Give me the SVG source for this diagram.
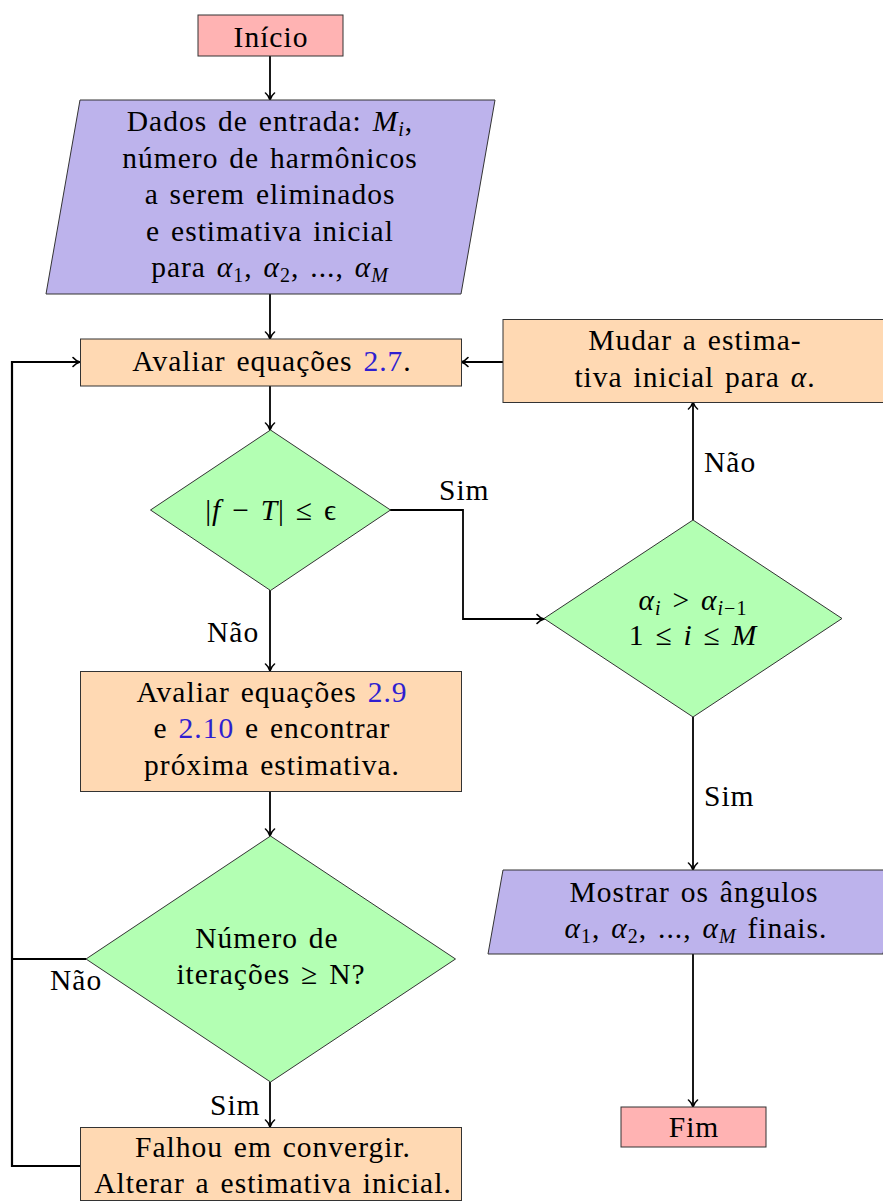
<svg xmlns="http://www.w3.org/2000/svg" width="883" height="1201" viewBox="0 0 883 1201" font-family="Liberation Serif, serif">
  <defs>
    <marker id="arrow" viewBox="-10 -6 12 12" refX="0" refY="0" markerWidth="12" markerHeight="12" markerUnits="userSpaceOnUse" orient="auto">
      <path d="M-7,-4.5 C-5,-2 -2,-0.6 0,0 C-2,0.6 -5,2 -7,4.5" fill="none" stroke="#000" stroke-width="1.6" stroke-linecap="round"/>
    </marker>
    <style>
      .term { fill: #ffb3b3; stroke: #333; stroke-width: 1; }
      .io { fill: #bdb3ec; stroke: #333; stroke-width: 1; }
      .proc { fill: #ffd9b3; stroke: #333; stroke-width: 1; }
      .dec { fill: #b3ffb3; stroke: #333; stroke-width: 1; }
      .conn { fill: none; stroke: #000; stroke-width: 1.8; }
      .loop { fill: none; stroke: #000; stroke-width: 2.2; }
      .t { font-family: "Liberation Serif", serif; font-size: 29.5px; letter-spacing: 1px; word-spacing: 2.5px; }
      .c { text-anchor: middle; }
      .m { font-style: italic; }
      .sub { font-size: 20px; }
      .ref { fill: #2f1fd0; }
    </style>
  </defs>

  <!-- connectors -->
  <g id="connectors">
    <path class="conn" d="M270,56 V100" marker-end="url(#arrow)"/>
    <path class="conn" d="M270,294 V339" marker-end="url(#arrow)"/>
    <path class="conn" d="M270,386 V430" marker-end="url(#arrow)"/>
    <path class="conn" d="M270,590 V671" marker-end="url(#arrow)"/>
    <path class="conn" d="M390,510 H463 V619 H544" marker-end="url(#arrow)"/>
    <path class="conn" d="M693,520 V402" marker-end="url(#arrow)"/>
    <path class="conn" d="M503,362 H461" marker-end="url(#arrow)"/>
    <path class="conn" d="M693,717 V870" marker-end="url(#arrow)"/>
    <path class="conn" d="M693,954 V1107" marker-end="url(#arrow)"/>
    <path class="conn" d="M270,792 V836" marker-end="url(#arrow)"/>
    <path class="conn" d="M270,1082 V1127" marker-end="url(#arrow)"/>
    <path class="loop" d="M80,1166 H12 V362 H80" marker-end="url(#arrow)"/>
    <path class="loop" d="M86,959 H12"/>
    <text class="t" x="439" y="500">Sim</text>
    <text class="t" x="207" y="642">Não</text>
    <text class="t" x="704" y="472">Não</text>
    <text class="t" x="704" y="806">Sim</text>
    <text class="t" x="50" y="990">Não</text>
    <text class="t" x="210" y="1115">Sim</text>
  </g>

  <!-- start -->
  <g id="inicio">
    <rect class="term" x="198" y="15" width="145" height="41"/>
    <text class="t c" x="271" y="46.5">Início</text>
  </g>

  <!-- input data -->
  <g id="dados">
    <polygon class="io" points="80,100 495,100 461,294 46,294"/>
    <text class="t c" x="270" y="131">Dados de entrada: <tspan class="m">M</tspan><tspan class="m sub" dy="5">i</tspan><tspan dy="-5">,</tspan></text>
    <text class="t c" x="270" y="168">número de harmônicos</text>
    <text class="t c" x="270" y="204">a serem eliminados</text>
    <text class="t c" x="270" y="241">e estimativa inicial</text>
    <text class="t c" x="270" y="277">para <tspan class="m">α</tspan><tspan class="sub" dy="5">1</tspan><tspan dy="-5">, </tspan><tspan class="m">α</tspan><tspan class="sub" dy="5">2</tspan><tspan dy="-5">, ..., </tspan><tspan class="m">α</tspan><tspan class="m sub" dy="5">M</tspan></text>
  </g>

  <!-- evaluate 2.7 -->
  <g id="avaliar27">
    <rect class="proc" x="80.5" y="339" width="381" height="47"/>
    <text class="t c" x="272" y="371">Avaliar equações <tspan class="ref">2.7</tspan>.</text>
  </g>

  <!-- change estimate -->
  <g id="mudar">
    <rect class="proc" x="503" y="319.5" width="385" height="83"/>
    <text class="t c" x="695" y="350">Mudar a estima-</text>
    <text class="t c" x="695" y="387">tiva inicial para <tspan class="m">α</tspan>.</text>
  </g>

  <!-- tolerance test -->
  <g id="tolerancia">
    <polygon class="dec" points="270.5,430 390.5,510 270.5,590.5 150.5,510"/>
    <text class="t c" x="271" y="520">|<tspan class="m">f</tspan> − <tspan class="m">T</tspan>| ≤ ϵ</text>
  </g>

  <!-- ordering test -->
  <g id="ordem">
    <polygon class="dec" points="693,520 842,618.5 693,717 544,618.5"/>
    <text class="t c" x="693" y="610"><tspan class="m">α</tspan><tspan class="m sub" dy="5">i</tspan><tspan dy="-5"> &gt; </tspan><tspan class="m">α</tspan><tspan class="sub" dy="5"><tspan class="m">i</tspan>−1</tspan></text>
    <text class="t c" x="693" y="645">1 ≤ <tspan class="m">i</tspan> ≤ <tspan class="m">M</tspan></text>
  </g>

  <!-- evaluate 2.9 and 2.10 -->
  <g id="avaliar29">
    <rect class="proc" x="80.5" y="671.5" width="381" height="120"/>
    <text class="t c" x="272" y="702">Avaliar equações <tspan class="ref">2.9</tspan></text>
    <text class="t c" x="272" y="738">e <tspan class="ref">2.10</tspan> e encontrar</text>
    <text class="t c" x="272" y="775">próxima estimativa.</text>
  </g>

  <!-- iteration limit -->
  <g id="iteracoes">
    <polygon class="dec" points="270.5,836 455.5,959 270.5,1082 86,959"/>
    <text class="t c" x="267" y="948">Número de</text>
    <text class="t c" x="271" y="984">iterações  ≥  N?</text>
  </g>

  <!-- failure -->
  <g id="falhou">
    <rect class="proc" x="80.5" y="1127.5" width="381" height="73"/>
    <text class="t c" x="273" y="1157">Falhou em convergir.</text>
    <text class="t c" x="273" y="1193">Alterar a estimativa inicial.</text>
  </g>

  <!-- output -->
  <g id="mostrar">
    <polygon class="io" points="503,870 898,870 883,954 488,954"/>
    <text class="t c" x="694" y="902">Mostrar os ângulos</text>
    <text class="t c" x="696" y="938"><tspan class="m">α</tspan><tspan class="sub" dy="5">1</tspan><tspan dy="-5">, </tspan><tspan class="m">α</tspan><tspan class="sub" dy="5">2</tspan><tspan dy="-5">, ..., </tspan><tspan class="m">α</tspan><tspan class="m sub" dy="5">M</tspan><tspan dy="-5"> finais.</tspan></text>
  </g>

  <!-- end -->
  <g id="fim">
    <rect class="term" x="621" y="1107" width="145" height="40"/>
    <text class="t c" x="694" y="1137">Fim</text>
  </g>
</svg>
